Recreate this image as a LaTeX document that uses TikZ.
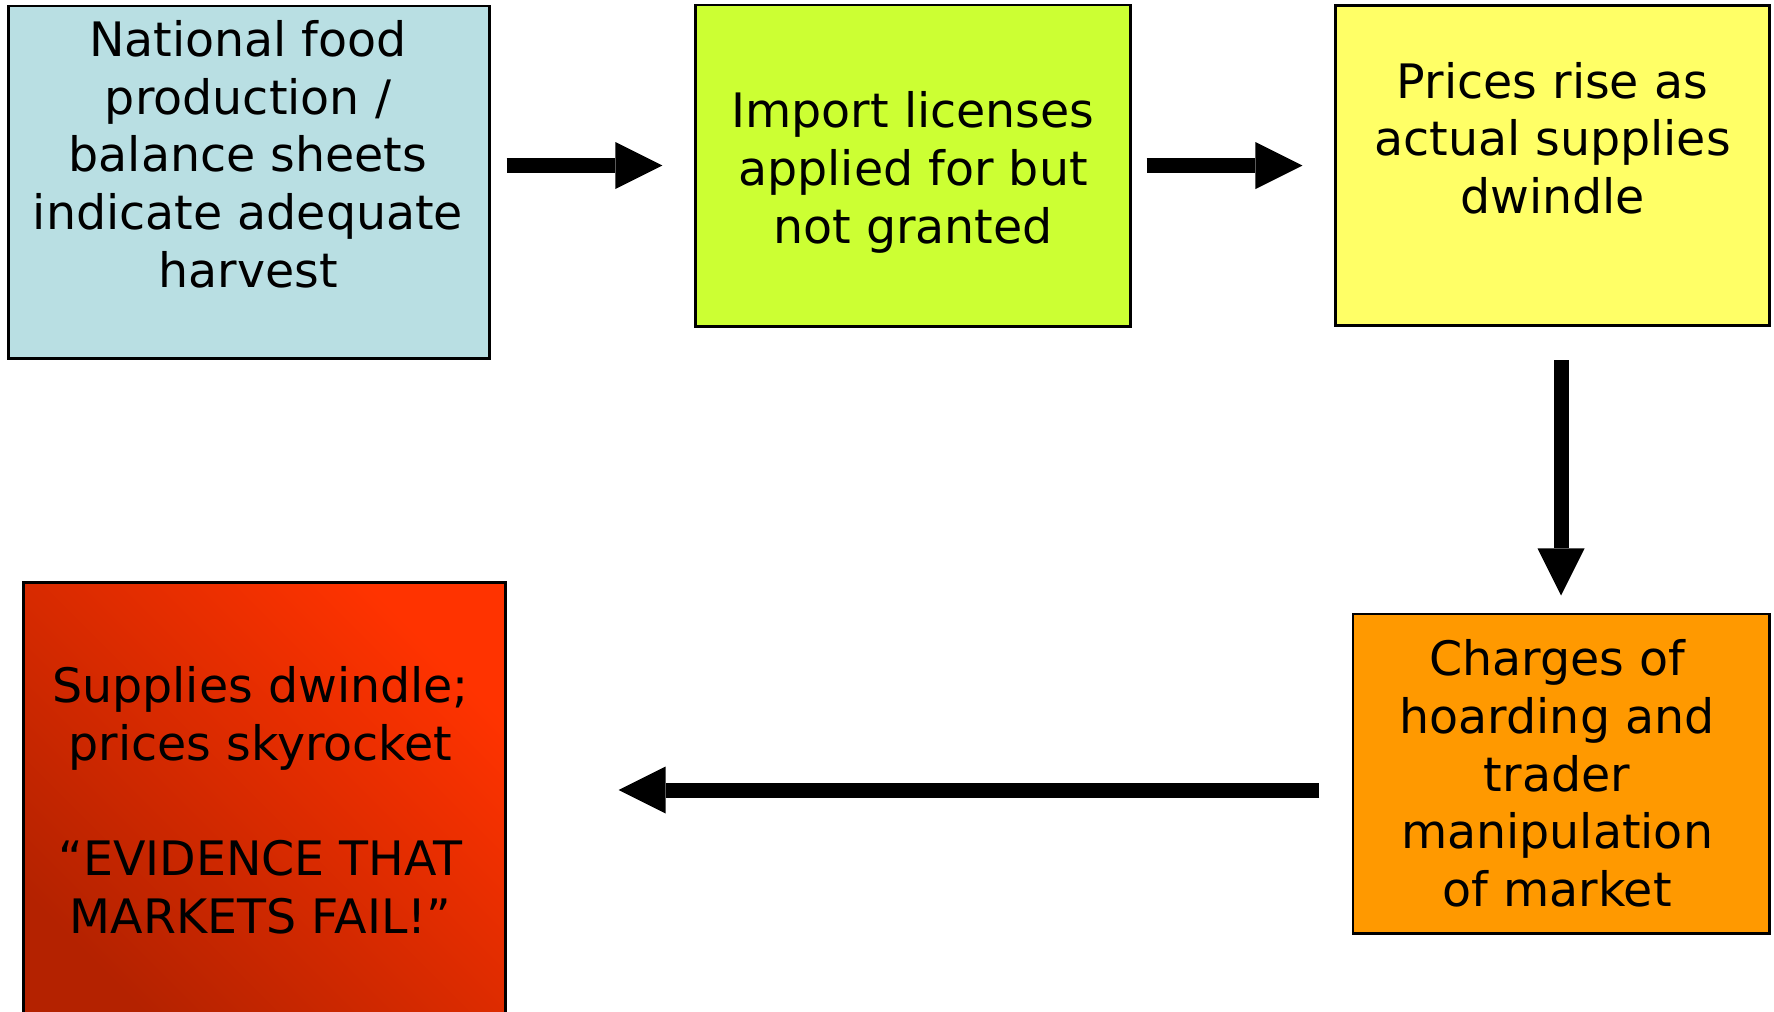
\documentclass[tikz,border=0pt]{standalone}
\usepackage{fontspec}
\setmainfont{DejaVu Sans}
\usetikzlibrary{arrows.meta}

\definecolor{boxblue}{HTML}{B9DFE3}
\definecolor{boxlime}{HTML}{CCFF33}
\definecolor{boxyellow}{HTML}{FFFF66}
\definecolor{boxorange}{HTML}{FF9900}
\definecolor{redlight}{HTML}{FF3300}
\definecolor{reddark}{HTML}{B42200}

\begin{document}
\begin{tikzpicture}[x=0.01cm, y=-0.01cm,
    box/.style={draw=black, line width=0.8pt, inner sep=0pt},
    txt/.style={align=center, inner sep=0pt, font=\fontsize{13.5}{16.4}\selectfont},
    arr/.style={line width=0.15cm, -{Triangle[length=0.47cm, width=0.47cm, line width=0pt]}}]
        \useasboundingbox (0,0) rectangle (1774,1011);
        \clip (0,0) rectangle (1774,1011);
        % Draw the boxes
        \node[box, fill=boxblue, minimum width=4.80cm, minimum height=3.52cm] (b1) at (249,182) {};
        \node[box, fill=boxlime, minimum width=4.34cm, minimum height=3.21cm] (b2) at (913,165.5) {};
        \node[box, fill=boxyellow, minimum width=4.33cm, minimum height=3.20cm] (b3) at (1552.5,165.5) {};
        \node[box, fill=boxorange, minimum width=4.16cm, minimum height=3.19cm] (b4) at (1561,773.5) {};
        \node[box, top color=redlight, bottom color=reddark, shading angle=-45,
              minimum width=4.81cm, minimum height=4.47cm] (b5) at (264.5,806.5) {};
        % texts
        \node[txt] (t1) at ([shift={(-1,-28)}]b1.center) {National food\\production /\\balance sheets\\indicate adequate\\harvest};
        \node[txt] (t2) at ([shift={(0,7)}]b2.center) {Import licenses\\applied for but\\not granted};
        \node[txt] (t3) at ([shift={(0,-27.5)}]b3.center) {Prices rise as\\actual supplies\\dwindle};
        \node[txt] (t4) at ([shift={(-4,0)}]b4.center) {Charges of\\hoarding and\\trader\\manipulation\\of market};
        \node[txt] (t5) at ([shift={(-4,-6)}]b5.center)
              {Supplies dwindle;\\prices skyrocket\\[16.4pt]“EVIDENCE THAT\\MARKETS FAIL!”};
        % arrows
        \draw[arr, shorten <=0.16cm, shorten >=0.32cm] (b1.east |- b2.west) -- (b2.west);
        \draw[arr, shorten <=0.15cm, shorten >=0.32cm] (b2.east) -- (b3.west);
        \draw[arr, shorten <=0.33cm, shorten >=0.17cm] (b3.south -| b4.north) -- (b4.north);
        \coordinate (m) at ([yshift=-0.165cm]b4.west);
        \draw[arr, shorten <=0.32cm, shorten >=1.12cm] (m) -- (m -| b5.east);
\end{tikzpicture}
\end{document}
